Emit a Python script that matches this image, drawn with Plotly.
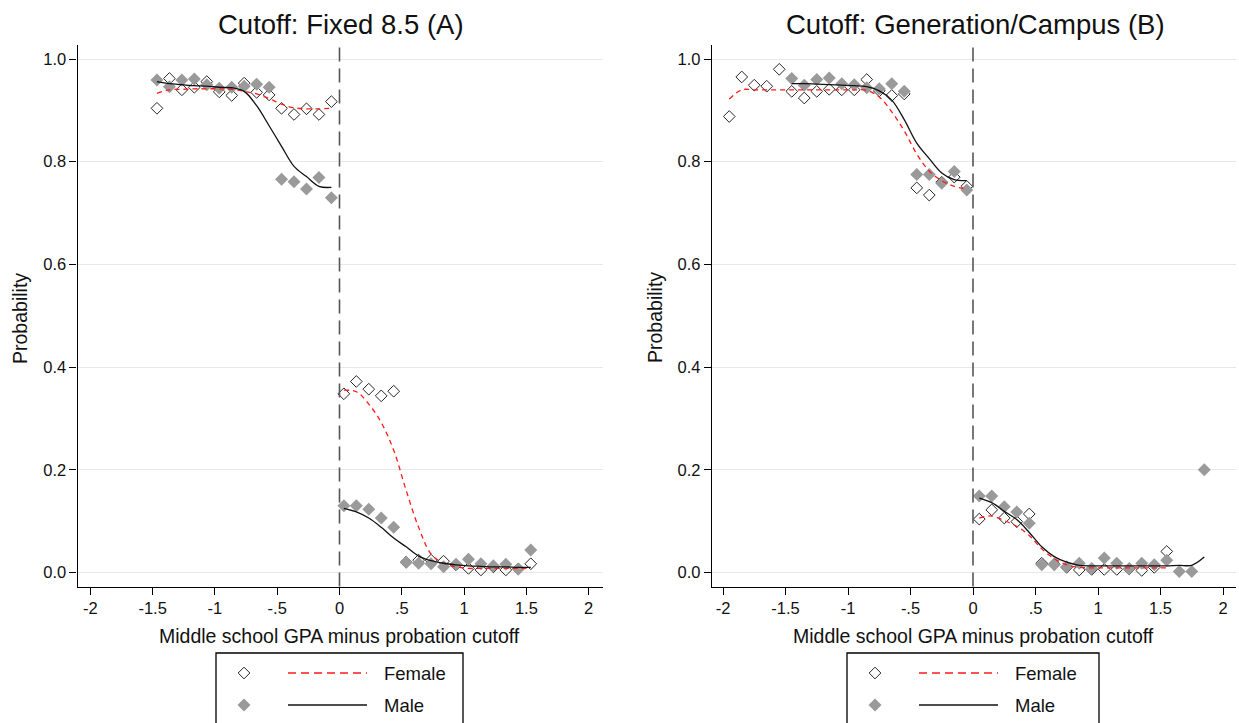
import plotly.graph_objects as go

W, H = 1239, 723

# ---------------- Panel A: fixed 8.5 cutoff ----------------
A_X_BELOW = [-1.465, -1.365, -1.265, -1.165, -1.065, -0.965, -0.865, -0.765,
             -0.665, -0.565, -0.465, -0.365, -0.265, -0.165, -0.065]
A_X_ABOVE = [0.035, 0.135, 0.235, 0.335, 0.435, 0.535, 0.635, 0.735,
             0.835, 0.935, 1.035, 1.135, 1.235, 1.335, 1.435, 1.535]

A_FEMALE_BELOW = [0.904, 0.962, 0.940, 0.945, 0.956, 0.936, 0.929, 0.953,
                  0.935, 0.930, 0.904, 0.892, 0.903, 0.892, 0.917]
A_MALE_BELOW = [0.959, 0.946, 0.959, 0.961, 0.950, 0.943, 0.945, 0.947,
                0.951, 0.945, 0.766, 0.761, 0.747, 0.769, 0.730]
A_FEMALE_ABOVE = [0.348, 0.372, 0.357, 0.344, 0.353, 0.020, 0.024, 0.024,
                  0.022, 0.015, 0.008, 0.005, 0.011, 0.005, 0.007, 0.017]
A_MALE_ABOVE = [0.130, 0.130, 0.123, 0.106, 0.088, 0.020, 0.018, 0.017,
                0.011, 0.016, 0.026, 0.017, 0.013, 0.016, 0.007, 0.044]

A_FEMALE_FIT_BELOW = [0.933, 0.940, 0.941, 0.942, 0.942, 0.942, 0.941, 0.937,
                      0.932, 0.923, 0.912, 0.905, 0.903, 0.903, 0.904]
A_MALE_FIT_BELOW = [0.956, 0.952, 0.950, 0.948, 0.947, 0.945, 0.944, 0.937,
                    0.909, 0.870, 0.830, 0.791, 0.771, 0.752, 0.750]
A_FEMALE_FIT_ABOVE = [0.355, 0.352, 0.328, 0.292, 0.238, 0.160, 0.088, 0.036,
                      0.018, 0.011, 0.008, 0.008, 0.008, 0.008, 0.008, 0.008]
A_MALE_FIT_ABOVE = [0.125, 0.118, 0.106, 0.088, 0.067, 0.050, 0.032, 0.023,
                    0.018, 0.015, 0.013, 0.012, 0.011, 0.011, 0.010, 0.010]

# ---------------- Panel B: generation/campus cutoff ----------------
B_X_FEMALE_BELOW = [-1.95, -1.85, -1.75, -1.65, -1.55, -1.45, -1.35, -1.25, -1.15, -1.05,
                    -0.95, -0.85, -0.75, -0.65, -0.55, -0.45, -0.35, -0.25, -0.15, -0.05]
B_X_MALE_BELOW = [-1.45, -1.35, -1.25, -1.15, -1.05, -0.95, -0.85, -0.75,
                  -0.65, -0.55, -0.45, -0.35, -0.25, -0.15, -0.05]
B_X_FEMALE_ABOVE = [0.05, 0.15, 0.25, 0.35, 0.45, 0.55, 0.65, 0.75,
                    0.85, 0.95, 1.05, 1.15, 1.25, 1.35, 1.45, 1.55]
B_X_MALE_ABOVE = [0.05, 0.15, 0.25, 0.35, 0.45, 0.55, 0.65, 0.75, 0.85, 0.95,
                  1.05, 1.15, 1.25, 1.35, 1.45, 1.55, 1.65, 1.75, 1.85]

B_FEMALE_BELOW = [0.888, 0.965, 0.949, 0.947, 0.980, 0.937, 0.924, 0.937, 0.941, 0.940,
                  0.940, 0.960, 0.938, 0.929, 0.932, 0.749, 0.735, 0.760, 0.770, 0.752]
B_MALE_BELOW = [0.962, 0.949, 0.960, 0.963, 0.952, 0.950, 0.944, 0.942,
                0.952, 0.937, 0.775, 0.775, 0.758, 0.781, 0.745]
B_FEMALE_ABOVE = [0.104, 0.122, 0.106, 0.099, 0.114, 0.018, 0.016, 0.010,
                  0.005, 0.006, 0.006, 0.006, 0.007, 0.004, 0.010, 0.041]
B_MALE_ABOVE = [0.149, 0.149, 0.128, 0.118, 0.096, 0.015, 0.015, 0.011, 0.018, 0.008,
                0.028, 0.018, 0.008, 0.018, 0.015, 0.024, 0.002, 0.002, 0.200]

B_FEMALE_FIT_BELOW = [0.922, 0.940, 0.940, 0.940, 0.940, 0.940, 0.940, 0.940, 0.940, 0.940,
                      0.940, 0.939, 0.926, 0.897, 0.860, 0.815, 0.782, 0.763, 0.752, 0.747]
B_MALE_FIT_BELOW = [0.952, 0.952, 0.951, 0.950, 0.949, 0.948, 0.946, 0.938,
                    0.920, 0.882, 0.836, 0.806, 0.778, 0.765, 0.763]
B_FEMALE_FIT_ABOVE = [0.106, 0.110, 0.101, 0.090, 0.072, 0.046, 0.027, 0.015,
                      0.010, 0.009, 0.009, 0.009, 0.009, 0.009, 0.009, 0.009]
B_MALE_FIT_ABOVE = [0.145, 0.136, 0.119, 0.103, 0.078, 0.050, 0.031, 0.020, 0.014, 0.013,
                    0.013, 0.013, 0.013, 0.013, 0.013, 0.013, 0.014, 0.014, 0.030]

X_TICKS = [-2, -1.5, -1, -0.5, 0, 0.5, 1, 1.5, 2]
X_TICK_LABELS = ["-2", "-1.5", "-1", "-.5", "0", ".5", "1", "1.5", "2"]
Y_TICKS = [0, 0.2, 0.4, 0.6, 0.8, 1.0]
Y_TICK_LABELS = ["0.0", "0.2", "0.4", "0.6", "0.8", "1.0"]

TITLES = ["Cutoff: Fixed 8.5 (A)", "Cutoff: Generation/Campus (B)"]
X_TITLE = "Middle school GPA minus probation cutoff"
Y_TITLE = "Probability"
LEGEND_LABELS = ["Female", "Male"]

FONT = "Liberation Sans, Arial, sans-serif"
FEMALE_MARK = dict(symbol="diamond-open", size=9, color="#262626", line=dict(width=1, color="#262626"))
MALE_MARK = dict(symbol="diamond", size=10, color="#9a9a9a", line=dict(width=0))
FEMALE_LINE = dict(color="#ff1a1a", width=1.3, dash="5px,4px", shape="spline")
MALE_LINE = dict(color="#111111", width=1.3, shape="spline")


def px_x(p):
    return p / W


def px_y(p):
    return 1 - p / H


fig = go.Figure()

panels = [
    dict(xa="x", ya="y",
         fb=(A_X_BELOW, A_FEMALE_BELOW, A_FEMALE_FIT_BELOW),
         mb=(A_X_BELOW, A_MALE_BELOW, A_MALE_FIT_BELOW),
         fa=(A_X_ABOVE, A_FEMALE_ABOVE, A_FEMALE_FIT_ABOVE),
         ma=(A_X_ABOVE, A_MALE_ABOVE, A_MALE_FIT_ABOVE)),
    dict(xa="x2", ya="y2",
         fb=(B_X_FEMALE_BELOW, B_FEMALE_BELOW, B_FEMALE_FIT_BELOW),
         mb=(B_X_MALE_BELOW, B_MALE_BELOW, B_MALE_FIT_BELOW),
         fa=(B_X_FEMALE_ABOVE, B_FEMALE_ABOVE, B_FEMALE_FIT_ABOVE),
         ma=(B_X_MALE_ABOVE, B_MALE_ABOVE, B_MALE_FIT_ABOVE)),
]

for p in panels:
    # binned means
    for key, mk in (("fb", FEMALE_MARK), ("fa", FEMALE_MARK), ("mb", MALE_MARK), ("ma", MALE_MARK)):
        xs, ys, _ = p[key]
        fig.add_trace(go.Scatter(x=xs, y=ys, mode="markers", marker=mk,
                                 xaxis=p["xa"], yaxis=p["ya"], showlegend=False,
                                 hoverinfo="skip"))
    # smoothed fits on each side of the cutoff
    for key, ln in (("fb", FEMALE_LINE), ("fa", FEMALE_LINE), ("mb", MALE_LINE), ("ma", MALE_LINE)):
        xs, _, fit = p[key]
        fig.add_trace(go.Scatter(x=xs, y=fit, mode="lines", line=ln,
                                 xaxis=p["xa"], yaxis=p["ya"], showlegend=False,
                                 hoverinfo="skip"))

# plot-region geometry (pixels)
A_LEFT, A_RIGHT, A_ZERO = 77.6, 603.0, 339.5
B_LEFT, B_RIGHT, B_ZERO = 712.0, 1235.6, 973.0
X_UNIT_A, X_UNIT_B = 124.6, 125.0
TOP, BOTTOM, Y_ZERO, Y_UNIT = 45.0, 586.5, 572.5, 513.5

y_range = [(Y_ZERO - BOTTOM) / Y_UNIT, (Y_ZERO - TOP) / Y_UNIT]
y_dom = [px_y(BOTTOM), px_y(TOP)]

axis_common = dict(showline=True, linecolor="#000", linewidth=1.3, ticks="outside",
                   ticklen=7, tickwidth=1.3, tickcolor="#000", zeroline=False,
                   tickfont=dict(family=FONT, size=16.5, color="#111"), fixedrange=True)

fig.update_layout(
    xaxis=dict(domain=[px_x(A_LEFT), px_x(A_RIGHT)],
               range=[(A_LEFT - A_ZERO) / X_UNIT_A, (A_RIGHT - A_ZERO) / X_UNIT_A],
               tickvals=X_TICKS, ticktext=X_TICK_LABELS, showgrid=False, anchor="y",
               **axis_common),
    yaxis=dict(domain=y_dom, range=y_range, tickvals=Y_TICKS, ticktext=Y_TICK_LABELS,
               showgrid=True, gridcolor="#e8e8e8", gridwidth=1, anchor="x",
               **axis_common),
    xaxis2=dict(domain=[px_x(B_LEFT), px_x(B_RIGHT)],
                range=[(B_LEFT - B_ZERO) / X_UNIT_B, (B_RIGHT - B_ZERO) / X_UNIT_B],
                tickvals=X_TICKS, ticktext=X_TICK_LABELS, showgrid=False, anchor="y2",
                **axis_common),
    yaxis2=dict(domain=y_dom, range=y_range, tickvals=Y_TICKS, ticktext=Y_TICK_LABELS,
                showgrid=True, gridcolor="#e8e8e8", gridwidth=1, anchor="x2",
                **axis_common),
    # full-page pixel frame used only for the legend keys
    xaxis3=dict(domain=[0, 1], range=[0, W], visible=False, fixedrange=True, anchor="y3"),
    yaxis3=dict(domain=[0, 1], range=[H, 0], visible=False, fixedrange=True, anchor="x3"),
    width=W, height=H,
    margin=dict(l=0, r=0, t=0, b=0),
    paper_bgcolor="white", plot_bgcolor="rgba(0,0,0,0)",
    showlegend=False,
)

shapes = []
annotations = []

# cutoff reference lines
for xref in ("x", "x2"):
    shapes.append(dict(type="line", xref=xref, yref=xref.replace("x", "y") + " domain",
                       x0=0, x1=0, y0=0, y1=1,
                       line=dict(color="#555", width=1.6, dash="14px,7px")))

for title, xt, center_px in ((TITLES[0], A_ZERO + 1, A_ZERO), (TITLES[1], 975, B_ZERO)):
    annotations.append(dict(text=title, x=px_x(xt), y=px_y(25), xref="paper", yref="paper",
                            xanchor="center", yanchor="middle", showarrow=False,
                            font=dict(family=FONT, size=27.5, color="#111")))
    annotations.append(dict(text=X_TITLE, x=px_x(center_px), y=px_y(636), xref="paper",
                            yref="paper", xanchor="center", yanchor="middle", showarrow=False,
                            font=dict(family=FONT, size=19.5, color="#111")))

for x_px in (20, 655):
    annotations.append(dict(text=Y_TITLE, x=px_x(x_px), y=px_y(318), xref="paper",
                            yref="paper", xanchor="center", yanchor="middle", textangle=-90,
                            showarrow=False, font=dict(family=FONT, size=19.5, color="#111")))

# legend boxes under each panel
LEG_ROWS = (673, 705)
for box_left, box_right in ((216, 463), (847, 1099)):
    shapes.append(dict(type="rect", xref="paper", yref="paper",
                       x0=px_x(box_left), x1=px_x(box_right), y0=px_y(653), y1=px_y(740),
                       line=dict(color="#000", width=1.3), fillcolor="rgba(0,0,0,0)",
                       layer="above"))
    for row, mk, ln, label in ((LEG_ROWS[0], FEMALE_MARK, FEMALE_LINE, LEGEND_LABELS[0]),
                               (LEG_ROWS[1], MALE_MARK, MALE_LINE, LEGEND_LABELS[1])):
        fig.add_trace(go.Scatter(x=[box_left + 28], y=[row], mode="markers", marker=mk,
                                 xaxis="x3", yaxis="y3", showlegend=False, hoverinfo="skip"))
        line_style = dict(color=ln["color"], width=1.6)
        if "dash" in ln:
            line_style["dash"] = "8px,5px"
        shapes.append(dict(type="line", xref="paper", yref="paper",
                           x0=px_x(box_left + 72), x1=px_x(box_left + 151),
                           y0=px_y(row), y1=px_y(row), line=line_style))
        annotations.append(dict(text=label, x=px_x(box_left + 166), y=px_y(row), xref="paper",
                                yref="paper", xanchor="left", yanchor="middle",
                                showarrow=False, font=dict(family=FONT, size=18.5, color="#111")))

fig.update_layout(shapes=shapes, annotations=annotations)
fig.write_html("out.html")
